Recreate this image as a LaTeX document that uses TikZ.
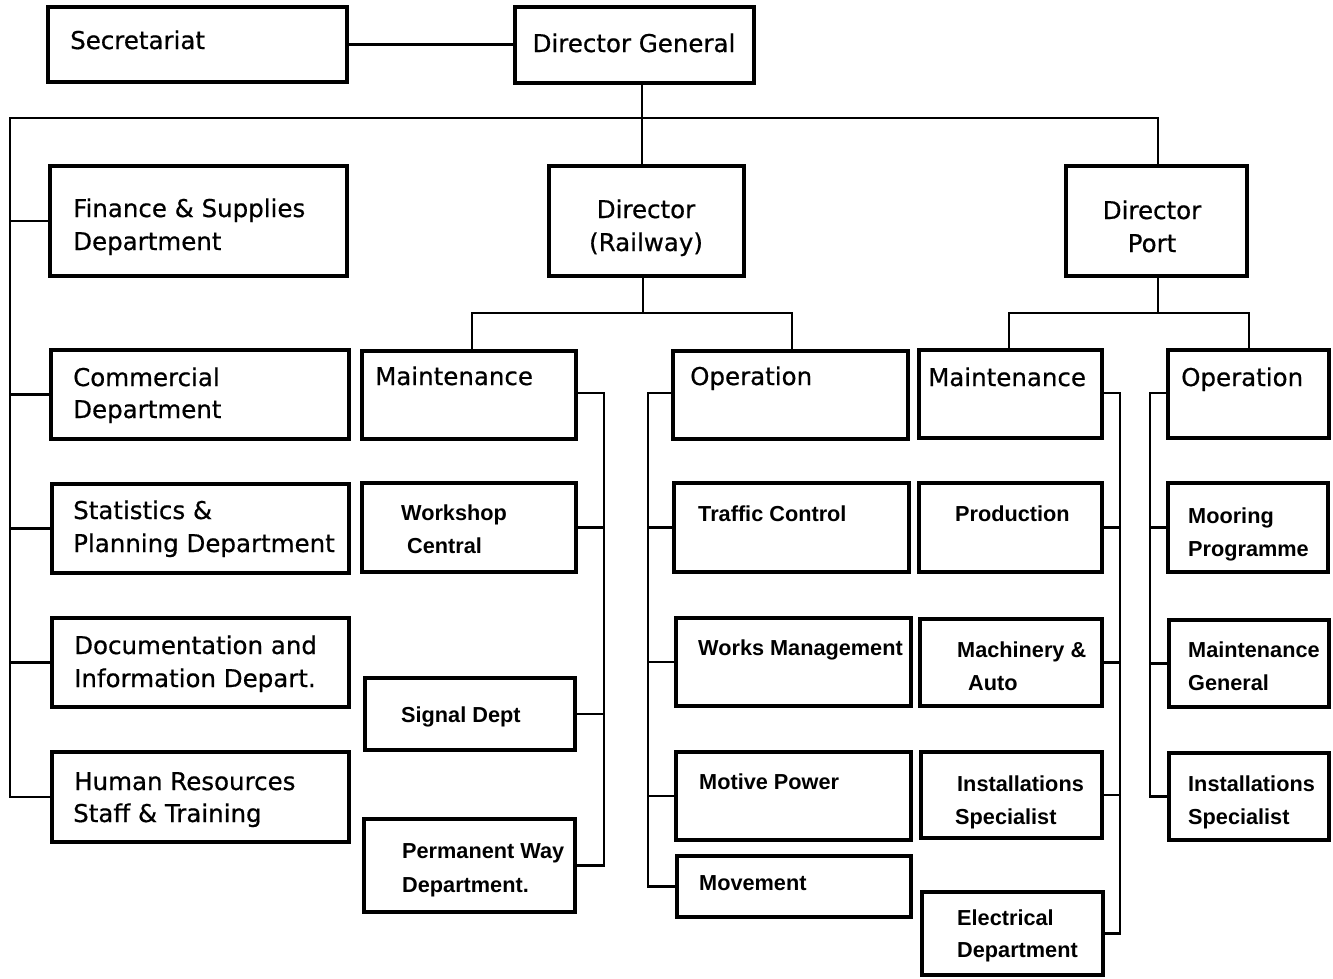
\documentclass[tikz,border=0pt]{standalone}
\usepackage{fontspec}
\newfontfamily\bigfont{DejaVu Sans}[FakeBold=0.6]
\newfontfamily\smallfont{Liberation Sans}
\tikzset{
 box/.style={draw, line width=3.2pt, rectangle, inner sep=0pt, outer sep=0pt},
 conn/.style={line width=2.5pt},
 bigtxt/.style={font=\bigfont\fontsize{24.5}{30}\selectfont, inner sep=0pt, anchor=base west},
 ctrtxt/.style={font=\bigfont\fontsize{24.5}{30}\selectfont, inner sep=0pt, anchor=base},
 smalltxt/.style={font=\smallfont\bfseries\fontsize{21.7}{26}\selectfont, inner sep=0pt, anchor=base west},
}
\newcommand\bx[5]{\node[box, minimum width={#4-#2}, minimum height={#5-#3}] (#1) at ({(#2+#4)/2},{(#3+#5)/2}) {};}
\newcommand\bt[4]{\node[bigtxt] (#1) at (#2,#3) {#4};}
\newcommand\ct[4]{\node[ctrtxt] (#1) at (#2,#3) {#4};}
\newcommand\st[4]{\node[smalltxt] (#1) at (#2,#3) {#4};}
\begin{document}
\begin{tikzpicture}[x=1pt,y=-1pt]
\fill[white] (0,0) rectangle (1333,978);
\useasboundingbox (0,0) rectangle (1333,978);
% boxes
\bx{sec}{48}{7}{347}{82}
\bx{dg}{515}{7}{754}{83}
\bx{fin}{50}{166}{347}{276}
\bx{dr}{549}{166}{744}{276}
\bx{dp}{1066}{166}{1247}{276}
\bx{com}{51}{350}{349}{439}
\bx{sta}{52}{484}{349}{573}
\bx{doc}{52}{618}{349}{707}
\bx{hr}{52}{752}{349}{842}
\bx{rm}{362}{351}{576}{439}
\bx{ro}{673}{351}{908}{439}
\bx{pm}{919}{350}{1102}{438}
\bx{po}{1168}{350}{1329}{438}
\bx{ws}{362}{483}{576}{572}
\bx{tc}{674}{483}{909}{572}
\bx{prod}{919}{483}{1102}{572}
\bx{moor}{1168}{483}{1328}{572}
\bx{sig}{365}{678}{575}{750}
\bx{wm}{676}{618}{911}{706}
\bx{mach}{920}{619}{1102}{706}
\bx{mgen}{1169}{620}{1329}{707}
\bx{pw}{364}{819}{575}{912}
\bx{mp}{676}{752}{911}{840}
\bx{inst1}{921}{752}{1102}{838}
\bx{inst2}{1169}{753}{1329}{840}
\bx{mv}{677}{856}{911}{917}
\bx{elec}{922}{892}{1103}{975}
% texts
\bt{tsec}{70}{49}{Secretariat}
\ct{tdg}{634}{52}{Director General}
\bt{tfin1}{73}{217}{Finance \& Supplies}
\bt{tfin2}{73}{250}{Department}
\ct{tdr1}{646}{218}{Director}
\ct{tdr2}{646}{251}{(Railway)}
\ct{tdp1}{1152}{219}{Director}
\ct{tdp2}{1152}{252}{Port}
\bt{trm}{375}{385}{Maintenance}
\bt{tro}{690}{385}{Operation}
\bt{tpm}{928}{386}{Maintenance}
\bt{tpo}{1181}{386}{Operation}
\bt{tcom1}{73}{386}{Commercial}
\bt{tcom2}{73}{418}{Department}
\bt{tsta1}{73}{519}{Statistics \&}
\bt{tsta2}{73}{552}{Planning Department}
\bt{tdoc1}{74}{654}{Documentation and}
\bt{tdoc2}{74}{687}{Information Depart.}
\bt{thr1}{74}{790}{Human Resources}
\bt{thr2}{73}{822}{Staff \& Training}
\st{tws1}{401}{520}{Workshop}
\st{tws2}{407}{553}{Central}
\st{ttc}{698}{521}{Traffic Control}
\st{tprod}{955}{521}{Production}
\st{tmoor1}{1188}{523}{Mooring}
\st{tmoor2}{1188}{556}{Programme}
\st{tsig}{401}{722}{Signal Dept}
\st{twm}{698}{655}{Works Management}
\st{tmach1}{957}{657}{Machinery \&}
\st{tmach2}{968}{690}{Auto}
\st{tmgen1}{1188}{657}{Maintenance}
\st{tmgen2}{1188}{690}{General}
\st{tmp}{699}{789}{Motive Power}
\st{tin1a}{957}{791}{Installations}
\st{tin1b}{955}{824}{Specialist}
\st{tin2a}{1188}{791}{Installations}
\st{tin2b}{1188}{824}{Specialist}
\st{tpw1}{402}{858}{Permanent Way}
\st{tpw2}{402}{892}{Department.}
\st{tmv}{699}{890}{Movement}
\st{tel1}{957}{925}{Electrical}
\st{tel2}{957}{957}{Department}
% connectors
\coordinate (b0) at (10,118);
\coordinate (b1) at (1158,118);
\coordinate (dgx) at (642,118);
\draw[conn] (sec.east) -- (sec.east -| dg.west);
\draw[conn] (dg.south -| dgx) -- (dr.north -| dgx);
\draw[conn] (dp.north -| b1) -- (b1) -- (b0) -- (b0 |- hr.west) -- (hr.west);
\foreach \n in {fin,com,sta,doc} \draw[conn] (b0 |- \n.west) -- (\n.west);
% railway
\coordinate (rj) at (643,313);
\coordinate (rl) at (472,313);
\coordinate (rr) at (792,313);
\draw[conn] (dr.south -| rj) -- (rj);
\draw[conn] (rm.north -| rl) -- (rl) -- (rr) -- (ro.north -| rr);
\coordinate (rms) at (604,393);
\draw[conn] (rm.east |- rms) -- (rms) -- (rms |- pw.east) -- (pw.east);
\foreach \n in {ws,sig} \draw[conn] (\n.east) -- (\n.east -| rms);
\coordinate (ros) at (648,393);
\draw[conn] (ro.west |- ros) -- (ros) -- (ros |- mv.west) -- (mv.west);
\foreach \n in {tc,wm,mp} \draw[conn] (\n.west) -- (\n.west -| ros);
% port
\coordinate (pj) at (1158,313);
\coordinate (pl) at (1009,313);
\coordinate (pr) at (1249,313);
\draw[conn] (dp.south -| pj) -- (pj);
\draw[conn] (pm.north -| pl) -- (pl) -- (pr) -- (po.north -| pr);
\coordinate (pms) at (1120,393);
\draw[conn] (pm.east |- pms) -- (pms) -- (pms |- elec.east) -- (elec.east);
\foreach \n in {prod,mach,inst1} \draw[conn] (\n.east) -- (\n.east -| pms);
\coordinate (pos) at (1150,393);
\draw[conn] (po.west |- pos) -- (pos) -- (pos |- inst2.west) -- (inst2.west);
\foreach \n in {moor,mgen} \draw[conn] (\n.west) -- (\n.west -| pos);
\end{tikzpicture}
\end{document}
